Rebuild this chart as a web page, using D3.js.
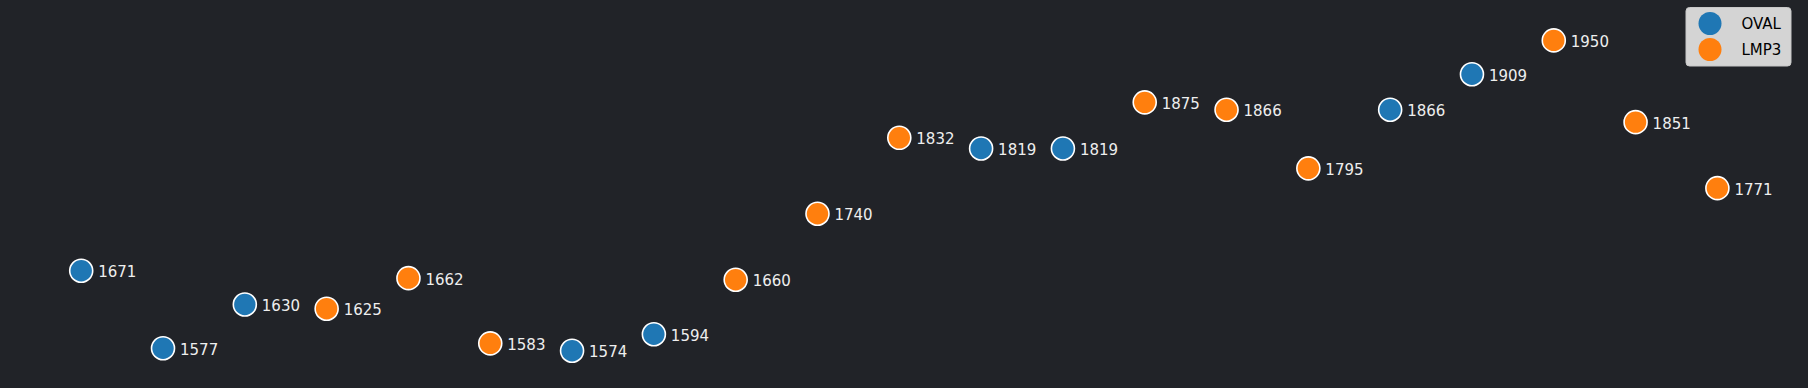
<!DOCTYPE html>
<html>
<head>
<meta charset="utf-8">
<script src="https://cdn.jsdelivr.net/npm/d3@7"></script>
<style>
  html, body { margin: 0; padding: 0; background: #212328; }
  svg { display: block; font-family: "DejaVu Sans", sans-serif; }
</style>
</head>
<body>
<div id="chart"></div>
<script>
// values in order along x
var values = [1671, 1577, 1630, 1625, 1662, 1583, 1574, 1594, 1660, 1740, 1832,
              1819, 1819, 1875, 1866, 1795, 1866, 1909, 1950, 1851, 1771];
var groups = ['OVAL', 'OVAL', 'OVAL', 'LMP3', 'LMP3', 'LMP3', 'OVAL', 'OVAL', 'LMP3', 'LMP3', 'LMP3',
              'OVAL', 'OVAL', 'LMP3', 'LMP3', 'LMP3', 'OVAL', 'OVAL', 'LMP3', 'LMP3', 'LMP3'];
var seriesNames = ['OVAL', 'LMP3'];
var seriesColors = ['#1f77b4', '#ff7f0e'];

var width = 1808, height = 388;

var svg = d3.select('#chart').append('svg')
    .attr('width', width)
    .attr('height', height);

svg.append('rect').attr('width', width).attr('height', height).attr('fill', '#212328');

var n = values.length;
var x = d3.scaleLinear().domain([-1, n]).range([-0.6, 1799.2]);
var ymin = d3.min(values), ymax = d3.max(values), pad = (ymax - ymin) * 0.05;
var y = d3.scaleLinear().domain([ymin - pad, ymax + pad]).range([366.3, 24.9]);
var color = d3.scaleOrdinal().domain(seriesNames).range(seriesColors);

var data = values.map(function(v, i) { return { i: i, v: v, g: groups[i] }; });

var pts = svg.append('g').selectAll('g.pt')
    .data(data)
    .enter().append('g')
    .attr('class', 'pt')
    .attr('transform', function(d) { return 'translate(' + x(d.i) + ',' + y(d.v) + ')'; });

pts.append('circle')
    .attr('r', 11.5)
    .attr('fill', function(d) { return color(d.g); })
    .attr('stroke', '#ffffff')
    .attr('stroke-width', 1.6);

pts.append('text')
    .attr('x', 17)
    .attr('y', 6.5)
    .attr('fill', '#eeeeee')
    .style('font-size', '15px')
    .text(function(d) { return d.v; });

// legend
var legend = svg.append('g').attr('transform', 'translate(1686,7.5)');
legend.append('rect')
    .attr('width', 105).attr('height', 58.5)
    .attr('rx', 3.5)
    .attr('fill', '#d4d4d4')
    .attr('stroke', '#c8c8c8');

var items = legend.selectAll('g.item')
    .data(seriesNames)
    .enter().append('g')
    .attr('class', 'item')
    .attr('transform', function(d, i) { return 'translate(0,' + (16 + i * 26) + ')'; });

items.append('circle')
    .attr('cx', 24).attr('r', 11.5)
    .attr('fill', function(d) { return color(d); });

items.append('text')
    .attr('x', 55.5).attr('y', 5.5)
    .attr('fill', '#000')
    .style('font-size', '15px')
    .text(function(d) { return d; });
</script>
</body>
</html>
